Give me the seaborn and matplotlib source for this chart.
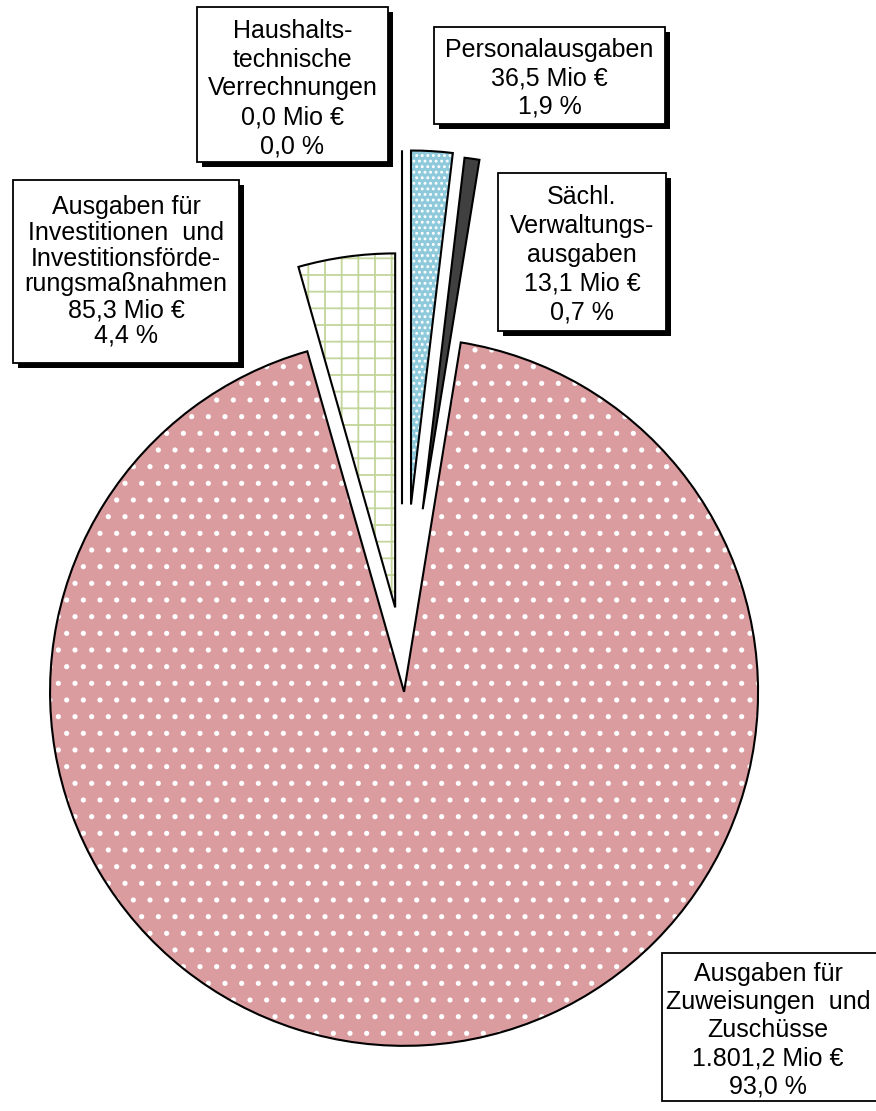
import matplotlib
matplotlib.use("Agg")
import matplotlib.pyplot as plt
import seaborn as sns
from matplotlib.patches import Wedge, Rectangle

# Daten (Mio Euro), im Uhrzeigersinn ab 12 Uhr
kategorien = [
    "Haushalts-\ntechnische\nVerrechnungen",
    "Personalausgaben",
    "Sächl.\nVerwaltungs-\nausgaben",
    "Ausgaben für\nZuweisungen  und\nZuschüsse",
    "Ausgaben für\nInvestitionen  und\nInvestitionsförde-\nrungsmaßnahmen",
]
werte = [0.0, 36.5, 13.1, 1801.2, 85.3]

# Stil
sns.set_theme(style="white")
plt.rcParams["font.family"] = ["Liberation Sans", "DejaVu Sans"]
plt.rcParams["text.color"] = "black"
plt.rcParams["hatch.linewidth"] = 1.3

farben = ["white", "#8ecadb", "#404040", "#db9c9f", "white"]
hatch_farben = ["white", "white", "#404040", "white", "#c3d69b"]
hatches = [None, "...", None, ".", "+"]

W, H = 876, 1111
radius = 354
# explode relativ zum Radius
explode = [r * radius for r in [0.43, 0.43, 0.42, 0.10, 0.14]]

fig = plt.figure(figsize=(W / 100, H / 100), dpi=100)
ax = fig.add_axes([0, 0, 1, 1])

# Kreisdiagramm (Koordinaten in Pixel, y nach oben)
wedges, _ = ax.pie(werte, explode=explode, colors=farben, startangle=90,
                   counterclock=False, center=(402, H - 656.5), radius=radius,
                   wedgeprops=dict(linewidth=0))

for w, hc, h in zip(wedges, hatch_farben, hatches):
    if h:
        ax.add_patch(Wedge(w.center, w.r, w.theta1, w.theta2, fill=False,
                           hatch=h, edgecolor=hc, linewidth=0, zorder=w.get_zorder() + 0.1))
    ax.add_patch(Wedge(w.center, w.r, w.theta1, w.theta2, fill=False,
                       edgecolor="black", linewidth=1.5, zorder=w.get_zorder() + 0.2))

ax.set_xlim(0, W)
ax.set_ylim(0, H)
ax.set_aspect("equal")
ax.axis("off")

# Beschriftungen
gesamt = sum(werte)


def de_zahl(x):
    s = f"{x:,.1f}"
    return s.replace(",", "X").replace(".", ",").replace("X", ".")


# Boxen: links, oben, rechts, unten (Pixel vom oberen Rand)
boxen = [
    (197, 7, 388, 162),
    (434, 27, 665, 124),
    (498, 173, 666, 331),
    (662, 953, 880, 1101),
    (13, 180, 239, 363),
]
schatten = [True, True, True, False, True]
zeilenabstand = [1.26, 1.22, 1.26, 1.22, 1.09]
y_versatz = [4, 3, 3, 3, 0]

for name, wert, box, sh, ls, dy in zip(kategorien, werte, boxen, schatten, zeilenabstand, y_versatz):
    x0, y0, x1, y1 = box
    if sh:
        ax.add_patch(Rectangle((x0 + 5, H - y1 - 5), x1 - x0, y1 - y0,
                               facecolor="black", edgecolor="none", zorder=5))
    ax.add_patch(Rectangle((x0, H - y1), x1 - x0, y1 - y0,
                           facecolor="white", edgecolor="black", linewidth=1.3, zorder=6))
    text = f"{name}\n{de_zahl(wert)} Mio €\n{de_zahl(wert / gesamt * 100)} %"
    xm = (x0 + min(x1, W - 2)) / 2
    ax.text(xm, H - (y0 + y1) / 2 - dy, text,
            ha="center", va="center", fontsize=18, linespacing=ls, zorder=7)

plt.savefig("out.png", dpi=100)
